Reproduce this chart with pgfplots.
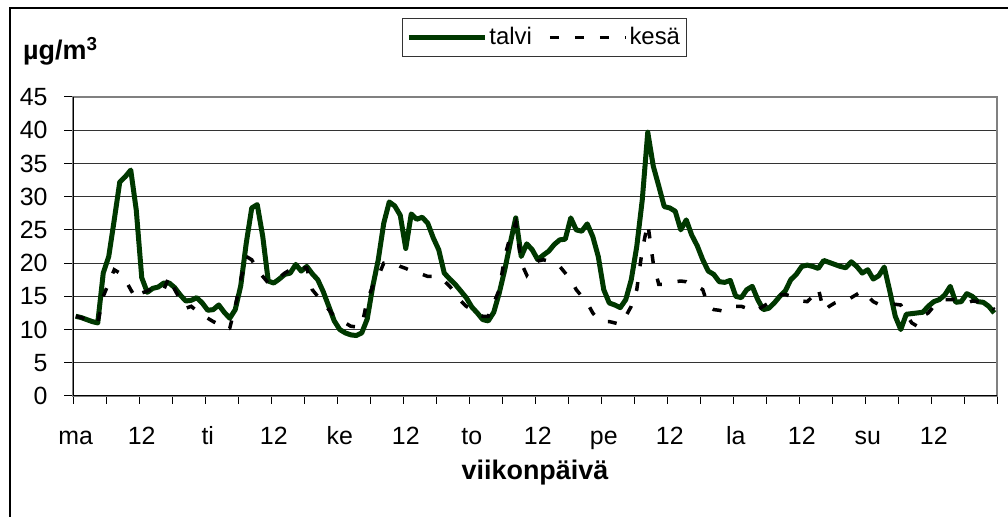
\documentclass[border=0pt]{standalone}
\usepackage{fontspec}
\setmainfont{Liberation Sans}
\usepackage{pgfplots}
\usepackage{pgfplotstable}
\pgfplotsset{compat=1.18}
\definecolor{talvig}{RGB}{0,56,0}

\pgfplotstableread{
h t k
0 12.0 12.0
1 11.8 11.8
2 11.5 11.5
3 11.2 11.2
4 11.0 11.0
5 18.5 15.0
6 21.0 17.0
7 26.5 19.0
8 32.2 18.5
9 33.0 17.5
10 34.0 16.0
11 28.0 14.6
12 17.8 15.5
13 15.6 15.8
14 16.2 16.2
15 16.4 16.5
16 17.0 16.0
17 17.0 18.0
18 16.3 16.0
19 15.2 14.5
20 14.3 13.2
21 14.4 13.5
22 14.8 12.8
23 14.0 12.2
24 12.9 11.7
25 13.0 11.2
26 13.7 10.8
27 12.6 10.0
28 11.7 10.2
29 13.0 13.5
30 16.6 17.5
31 23.0 21.0
32 28.3 20.5
33 28.8 19.0
34 24.0 18.0
35 17.3 17.0
36 17.0 17.2
37 17.6 17.8
38 18.3 18.5
39 18.5 19.0
40 19.8 19.5
41 18.8 19.3
42 19.5 19.3
43 18.4 16.0
44 17.5 15.0
45 15.7 14.0
46 13.5 13.0
47 11.3 12.0
48 10.0 11.5
49 9.5 11.0
50 9.2 10.5
51 9.1 10.4
52 9.5 10.5
53 11.6 14.5
54 16.5 16.5
55 20.5 18.0
56 26.0 20.0
57 29.2 20.2
58 28.6 20.0
59 27.2 19.5
60 22.2 19.2
61 27.4 18.8
62 26.6 18.5
63 26.9 18.3
64 26.0 18.0
65 23.8 18.0
66 22.0 18.0
67 18.5 17.3
68 17.6 16.5
69 16.8 15.5
70 15.8 14.3
71 14.8 13.5
72 13.4 13.0
73 12.5 12.5
74 11.5 12.0
75 11.3 12.0
76 12.6 14.0
77 15.5 16.0
78 19.0 21.0
79 23.0 24.0
80 26.8 26.0
81 21.0 20.0
82 22.9 18.2
83 22.0 19.5
84 20.5 20.3
85 21.2 20.5
86 21.8 20.3
87 22.8 19.8
88 23.5 19.5
89 23.6 18.5
90 26.8 17.5
91 25.0 16.0
92 24.8 15.0
93 25.9 14.0
94 24.0 12.5
95 21.0 11.5
96 16.0 11.2
97 14.0 11.2
98 13.7 11.0
99 13.3 10.8
100 14.5 12.0
101 17.5 13.5
102 22.5 16.0
103 29.5 22.0
104 39.7 26.0
105 34.6 20.0
106 31.6 16.8
107 28.5 16.8
108 28.3 17.0
109 27.8 17.2
110 25.0 17.3
111 26.5 17.2
112 24.2 16.7
113 22.6 16.5
114 20.5 16.0
115 18.8 13.5
116 18.3 13.0
117 17.2 12.9
118 17.1 12.7
119 17.4 13.2
120 15.0 13.5
121 14.8 13.5
122 16.0 13.2
123 16.5 13.5
124 14.5 13.0
125 13.0 13.5
126 13.2 14.0
127 14.0 14.8
128 15.0 15.2
129 15.8 15.3
130 17.5 15.0
131 18.3 14.5
132 19.5 14.3
133 19.7 14.2
134 19.5 15.0
135 19.2 16.2
136 20.4 12.8
137 20.1 13.5
138 19.8 14.0
139 19.5 14.3
140 19.3 14.3
141 20.2 14.8
142 19.5 15.3
143 18.5 15.8
144 19.0 15.0
145 17.6 14.2
146 18.1 13.8
147 19.4 13.7
148 15.8 13.7
149 12.0 13.8
150 10.0 13.7
151 12.3 12.3
152 12.4 11.0
153 12.5 10.5
154 12.6 12.0
155 13.5 12.5
156 14.2 13.5
157 14.5 14.0
158 15.2 14.5
159 16.5 14.5
160 14.1 14.5
161 14.2 14.3
162 15.4 14.0
163 15.0 14.3
164 14.2 14.2
165 14.1 14.0
166 13.5 13.8
167 12.5 13.0
}\data

\begin{document}
\fontsize{25}{29}\selectfont
\begin{tikzpicture}[x=1bp,y=1bp]
\useasboundingbox (0,0) rectangle (1008,517);
\draw[line width=1.5bp] (10,0) -- (10,509) -- (1008,509);
\begin{axis}[
 at={(73bp,121bp)}, anchor=south west,
 scale only axis, width=924bp, height=299bp,
 xmin=-0.5, xmax=167.5, ymin=0, ymax=45,
 ytick={0,5,...,45},
 xtick={0,12,...,156},
 xticklabels={ma,12,ti,12,ke,12,to,12,pe,12,la,12,su,12},
 minor xtick={-0.5,5.5,...,167.5},
 tick align=outside, xtick pos=bottom, ytick pos=left,
 major tick length=9bp, minor tick length=8bp,
 major x tick style={draw=none},
 tick style={black, line width=1bp},
 ymajorgrids, major grid style={black!80, line width=1bp},
 axis line style={draw=gray, line width=1.2bp},
 /pgf/number format/assume math mode=true,
 ticklabel style={font=\fontsize{25}{29}\selectfont},
 xticklabel style={anchor=base, yshift=-40bp},
 yticklabel style={xshift=-8bp},
 legend style={at={(0.510,1.199)}, anchor=center, legend columns=2,
   draw=black!80, line width=1bp, fill=white, inner xsep=4bp, inner ysep=6bp,
   font=\fontsize{24}{28}\selectfont,
   /tikz/every even column/.append style={column sep=14bp},
   nodes={inner sep=2bp}},
 legend image code/.code={\draw[#1] (0bp,0bp) -- (76bp,0bp);},
]
\addplot[talvig, line width=5bp, line join=round, no marks] table[x=h,y=t]{\data};
\addlegendentry{talvi}
\addplot[black, line width=3.5bp, dash pattern=on 9bp off 16bp, no marks] table[x=h,y=k]{\data};
\addlegendentry{kesä}
\draw[black, line width=1.2bp] (rel axis cs:0,1) -- (rel axis cs:0,0) -- (rel axis cs:1,0);
\end{axis}
\node[anchor=base west, font=\bfseries\fontsize{27}{31}\selectfont, inner sep=0] at (23,457) {µg/m\textsuperscript{3}};
\node[anchor=base, font=\bfseries\fontsize{27}{31}\selectfont, inner sep=0] at (535,37) {viikonpäivä};
\end{tikzpicture}
\end{document}
